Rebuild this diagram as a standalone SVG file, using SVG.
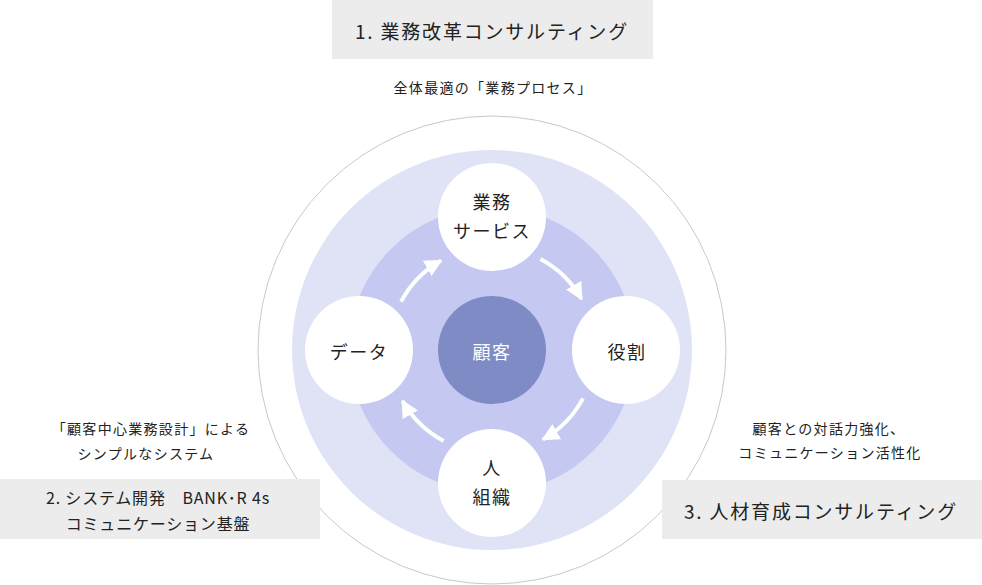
<svg xmlns="http://www.w3.org/2000/svg" width="982" height="585" viewBox="0 0 982 585">
<style>
text{font-family:"Noto Sans CJK JP","Noto Sans",sans-serif;fill:#222;text-anchor:middle;dominant-baseline:central}
.box{fill:#ececec}
.title{font-size:19px;letter-spacing:1.8px}
.title2{font-size:16px;letter-spacing:0.8px}
.sub{font-size:14px;letter-spacing:1.3px}
.node{fill:#fff}
.nt{font-size:18px;letter-spacing:1.5px}
.arc{fill:none;stroke:#fff;stroke-width:4;stroke-linecap:butt}
</style>
<defs>
<marker id="ah" viewBox="0 0 10 10" refX="9" refY="5" markerWidth="4.4" markerHeight="4.4" orient="auto" markerUnits="strokeWidth">
<path d="M0,0 L10,5 L0,10 Z" fill="#fff"/>
</marker>
</defs>
<g id="rings">
<circle cx="492" cy="350" r="234" fill="#fff" stroke="#c9c9c9" stroke-width="1"/>
<circle cx="492" cy="350" r="200" fill="#e0e3f6"/>
<circle cx="492" cy="350" r="143" fill="#c5c9f1"/>
</g>
<g id="connectors">
<path class="arc" d="M401.1,301.6 A103,103 0 0 1 441,260.5" marker-end="url(#ah)"/>
<path class="arc" d="M540.4,259.1 A103,103 0 0 1 581.5,299" marker-end="url(#ah)"/>
<path class="arc" d="M582.9,398.4 A103,103 0 0 1 543,439.5" marker-end="url(#ah)"/>
<path class="arc" d="M443.6,440.9 A103,103 0 0 1 402.5,401" marker-end="url(#ah)"/>
</g>
<g id="node-center">
<circle cx="492" cy="350" r="54" fill="#7f8bc5"/>
<text x="492" y="351" class="nt" style="fill:#fff">顧客</text>
</g>
<g id="node-top">
<circle class="node" cx="492" cy="217" r="54"/>
<text x="492" y="201" class="nt">業務</text>
<text x="492" y="230" class="nt">サービス</text>
</g>
<g id="node-right">
<circle class="node" cx="626" cy="350" r="54"/>
<text x="627" y="351" class="nt">役割</text>
</g>
<g id="node-bottom">
<circle class="node" cx="492" cy="483" r="54"/>
<text x="492" y="467" class="nt">人</text>
<text x="492" y="496" class="nt">組織</text>
</g>
<g id="node-left">
<circle class="node" cx="359" cy="350" r="54"/>
<text x="359" y="351" class="nt">データ</text>
</g>
<g id="box1">
<rect class="box" x="332" y="0" width="321" height="59"/>
<text x="492" y="30" class="title">1. 業務改革コンサルティング</text>
<text x="493" y="87" class="sub">全体最適の「業務プロセス」</text>
</g>
<g id="box2">
<text x="151" y="428" class="sub">「顧客中心業務設計」による</text>
<text x="146" y="453" class="sub">シンプルなシステム</text>
<rect class="box" x="0" y="479" width="320" height="60"/>
<text x="158" y="497" class="title2">2. システム開発　BANK･R 4s</text>
<text x="158" y="523" class="title2">コミュニケーション基盤</text>
</g>
<g id="box3">
<text x="829" y="428" class="sub">顧客との対話力強化、</text>
<text x="830" y="452" class="sub">コミュニケーション活性化</text>
<rect class="box" x="662" y="480" width="320" height="59"/>
<text x="821" y="510" class="title">3. 人材育成コンサルティング</text>
</g>
</svg>
